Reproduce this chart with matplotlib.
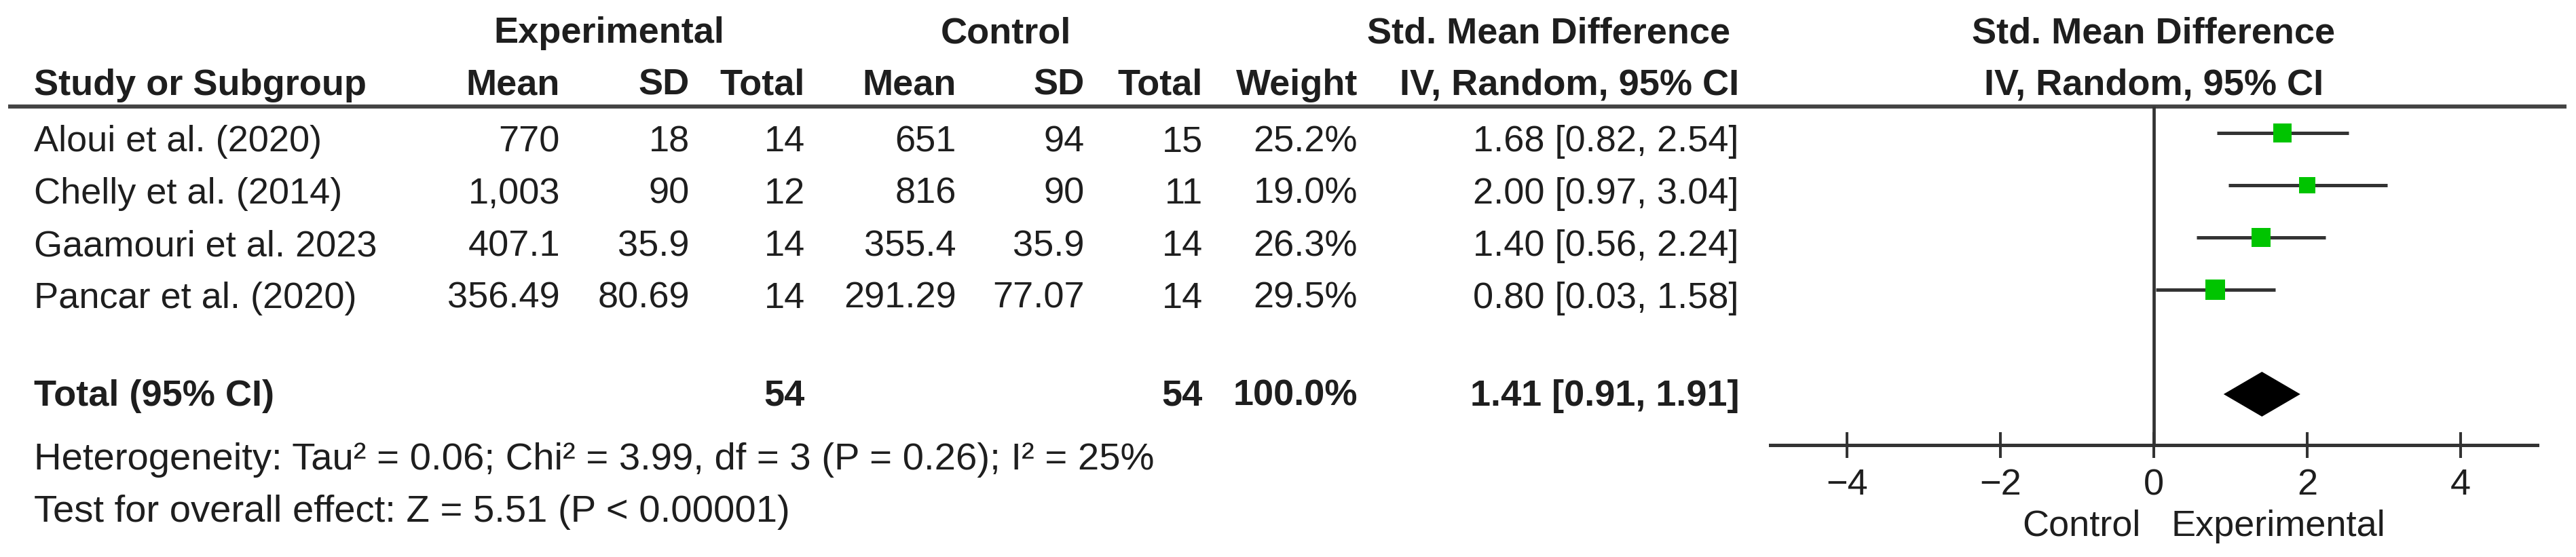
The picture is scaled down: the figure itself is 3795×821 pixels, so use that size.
import matplotlib
matplotlib.use("Agg")
import matplotlib.pyplot as plt
from matplotlib.transforms import blended_transform_factory
import numpy as np

# Study rows, as printed in the table
studies = ["Aloui et al. (2020)", "Chelly et al. (2014)",
           "Gaamouri et al. 2023", "Pancar et al. (2020)"]
exp_mean = ["770", "1,003", "407.1", "356.49"]
exp_sd = ["18", "90", "35.9", "80.69"]
exp_total = [14, 12, 14, 14]
ctl_mean = ["651", "816", "355.4", "291.29"]
ctl_sd = ["94", "90", "35.9", "77.07"]
ctl_total = [15, 11, 14, 14]
weights = [25.2, 19.0, 26.3, 29.5]
smd = [1.68, 2.00, 1.40, 0.80]
ci_low = [0.82, 0.97, 0.56, 0.03]
ci_high = [2.54, 3.04, 2.24, 1.58]

# Pooled result
total_exp = 54
total_ctl = 54
total_weight = 100.0
pooled_smd = 1.41
pooled_low = 0.91
pooled_high = 1.91

heterogeneity = "Heterogeneity: Tau\u00b2 = 0.06; Chi\u00b2 = 3.99, df = 3 (P = 0.26); I\u00b2 = 25%"
overall = "Test for overall effect: Z = 5.51 (P < 0.00001)"
x_ticks = [-4, -2, 0, 2, 4]

W, H = 3795, 821
FS = 39
TXT = "#1e1e1e"
LINE = "#333333"
GREEN = "#00c400"


def fmt_ci(est, lo, hi):
    return f"{est:.2f} [{lo:.2f}, {hi:.2f}]"


def main():
    plt.rcParams["font.family"] = ["Liberation Sans", "DejaVu Sans"]
    fig = plt.figure(figsize=(W / 100, H / 100), dpi=100)

    # overlay axes in pixel units for the table part
    page = fig.add_axes([0, 0, 1, 1], zorder=0)
    page.set_xlim(0, W)
    page.set_ylim(H, 0)
    page.axis("off")

    def txt(x, y, s, ha="right", bold=False, transform=None, size=FS):
        page.text(x, y, s, ha=ha, va="baseline", fontsize=size, color=TXT,
                  fontweight="bold" if bold else "normal",
                  transform=transform if transform is not None else page.transData)

    # column right edges (px)
    cols = [825, 1016, 1186, 1409, 1598, 1772, 2000, 2562]

    # headers
    txt(897, 63, "Experimental", ha="center", bold=True)
    txt(1482, 63, "Control", ha="center", bold=True)
    txt(2282, 63, "Std. Mean Difference", ha="center", bold=True)
    txt(50, 140, "Study or Subgroup", ha="left", bold=True)
    for x, s in zip(cols, ["Mean", "SD", "Total", "Mean", "SD", "Total",
                           "Weight", "IV, Random, 95% CI"]):
        txt(x, 140, s, bold=True)
    page.plot([12, 3781], [157, 157], color="#444444", lw=4.3,
              solid_capstyle="butt")

    # study rows
    row_px = 196
    pitch = 77
    for i, name in enumerate(studies):
        y = row_px + pitch * i + 27
        txt(50, y, name, ha="left")
        vals = [exp_mean[i], exp_sd[i], str(exp_total[i]), ctl_mean[i],
                ctl_sd[i], str(ctl_total[i]), f"{weights[i]:.1f}%",
                fmt_ci(smd[i], ci_low[i], ci_high[i])]
        for x, s in zip(cols, vals):
            txt(x, y, s)

    # total row
    ty = 598
    txt(50, ty, "Total (95% CI)", ha="left", bold=True)
    txt(cols[2], ty, str(total_exp), bold=True)
    txt(cols[5], ty, str(total_ctl), bold=True)
    txt(cols[6], ty, f"{total_weight:.1f}%", bold=True)
    txt(cols[7], ty, fmt_ci(pooled_smd, pooled_low, pooled_high), bold=True)
    # footer lines run a bit wider in the original font
    txt(50, 692, heterogeneity, ha="left", size=40.5)
    txt(50, 769, overall, ha="left", size=40.5)

    # forest plot axes
    left, right, top, bottom = 2608, 3738, 157, 656
    ax = fig.add_axes([left / W, 1 - bottom / H, (right - left) / W,
                       (bottom - top) / H], zorder=1)
    ax.patch.set_visible(False)
    ax.set_xlim(-5, 5)
    ax.set_ylim((bottom - row_px) / pitch, (top - row_px) / pitch)

    rows = np.arange(len(studies))
    ax.axvline(0, color=LINE, lw=3.4, zorder=1)
    ax.hlines(rows, ci_low, ci_high, color=LINE, lw=3.6, zorder=2)
    side = 5.38 * np.sqrt(weights) * 0.72
    ax.scatter(smd, rows, s=side ** 2, marker="s", color=GREEN,
               linewidths=0, zorder=3)

    total_row = len(studies) + 1
    h = 33 / pitch
    ax.fill([pooled_low, pooled_smd, pooled_high, pooled_smd],
            [total_row, total_row - h, total_row, total_row + h],
            color="black", lw=0, zorder=3)

    for s in ["left", "right", "top"]:
        ax.spines[s].set_visible(False)
    ax.spines["bottom"].set_linewidth(3.6)
    ax.spines["bottom"].set_color(LINE)
    ax.set_yticks([])
    ax.set_xticks(x_ticks)
    ax.tick_params(axis="x", direction="inout", length=27, width=2.9,
                   pad=11, labelsize=FS, color=LINE, labelcolor=TXT)

    # right-hand headers and favour labels, x in data units, y in pixels
    mix = blended_transform_factory(ax.transData, page.transData)
    txt(0, 63, "Std. Mean Difference", ha="center", bold=True, transform=mix)
    txt(0, 140, "IV, Random, 95% CI", ha="center", bold=True, transform=mix)
    txt(-0.17, 790, "Control", ha="right", transform=mix)
    txt(0.23, 790, "Experimental", ha="left", transform=mix)

    fig.savefig("out.png", dpi=100, facecolor="white")


if __name__ == "__main__":
    main()
